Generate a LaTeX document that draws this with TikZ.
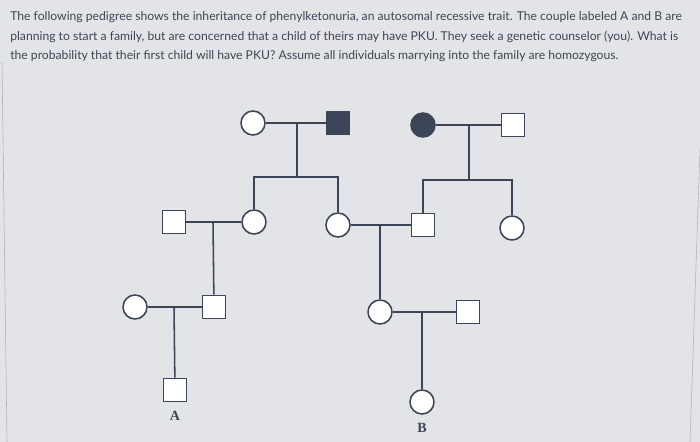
\documentclass[tikz,border=0pt]{standalone}
\usepackage{fontspec}
\setmainfont{Lato}
\newfontfamily\labelfont{Liberation Serif}
\usetikzlibrary{positioning}
\definecolor{pedline}{HTML}{3C4457}
\definecolor{pedtext}{HTML}{3E4553}
\definecolor{paper}{HTML}{E3E4E7}
\tikzset{
%Define styles for the pedigree symbols
female/.style={circle, draw=pedline, line width=1.1pt, fill=white, minimum size=0.6cm, inner sep=0pt},
male/.style={rectangle, draw=pedline, line width=1.1pt, fill=white, minimum size=0.58cm, inner sep=0pt},
affected/.style={fill=pedline},
%Define style for the lines between symbols
link/.style={draw=pedline, line width=1.1pt},
question/.style={anchor=west, inner sep=0pt, text=pedtext, font=\fontsize{8.65}{10}\selectfont},
tag/.style={text=pedline, font=\labelfont\bfseries\fontsize{10}{12}\selectfont},
}

\begin{document}
\begin{tikzpicture}[x=0.025cm, y=-0.025cm]

% background, with the edges of the screen
\fill[paper] (0,0) rectangle (700,442);
\useasboundingbox (0,0) rectangle (700,442);
\draw[gray!60, line width=0.4pt] (2,62) -- (7,442);
\draw[gray!60, line width=0.4pt] (700,150) -- (690,442);

% question text
\node[question] (q1) at (10,17) {The following pedigree shows the inheritance of phenylketonuria, an autosomal recessive trait. The couple labeled A and B are};
\node[question] (q2) at (10,37) {planning to start a family, but are concerned that a child of theirs may have PKU. They seek a genetic counselor (you). What is};
\node[question] (q3) at (10,56) {the probability that their first child will have PKU? Assume all individuals marrying into the family are homozygous.};

% first generation, left couple
\node[female] (f1) at (253,123) {};
\node[male, affected] (m1) at (338,123) {};
\coordinate (u1) at (297,123);
\coordinate (s1) at (297,177);
\draw[link] (f1) -- (m1);
\draw[link] (u1) -- (s1);

% first generation, right couple
\node[female, affected] (f2) at (423,125) {};
\node[male] (m2) at (513,125) {};
\coordinate (u2) at (469,125);
\coordinate (s2) at (469,180);
\draw[link] (f2) -- (m2);
\draw[link] (u2) -- (s2);

% second generation
\node[male] (m3) at (174,222) {};
\node[female] (f3) at (254,222) {};
\node[female] (f4) at (338,225) {};
\node[male] (m4) at (423,225) {};
\node[female] (f7) at (512,228) {};
\draw[link] (s1) -| (f3);
\draw[link] (s1) -| (f4);
\draw[link] (s2) -| (m4);
\draw[link] (s2) -| (f7);
\coordinate (u3) at (213,222);
\coordinate (u4) at (380,225);
\draw[link] (m3) -- (f3);
\draw[link] (f4) -- (m4);

% third generation
\node[female] (f5) at (135,307) {};
\node[male] (m5) at (214,307) {};
\node[female] (f6) at (380,312) {};
\node[male] (m6) at (468,312) {};
\draw[link] (u3) -- (m5);
\draw[link] (u4) -- (f6);
\coordinate (u5) at (174,307);
\coordinate (u6) at (422,312);
\draw[link] (f5) -- (m5);
\draw[link] (f6) -- (m6);

% the couple A and B
\node[male] (a) at (175,390) {};
\node[female] (b) at (422,402) {};
\draw[link] (u5) -- (a);
\draw[link] (u6) -- (b);
\node[tag] (la) at (175,416) {A};
\node[tag] (lb) at (422,428) {B};

\end{tikzpicture}
\end{document}
